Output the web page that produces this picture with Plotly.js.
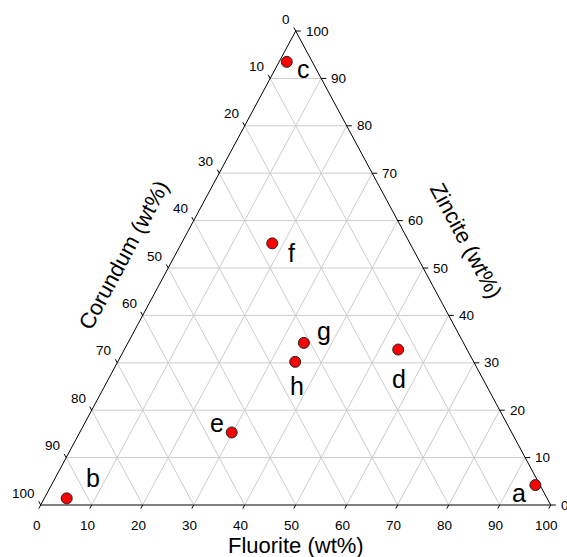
<!DOCTYPE html>
<html>
<head>
<meta charset="utf-8">
<script src="https://cdn.plot.ly/plotly-3.0.1.min.js"></script>
<style>html,body{margin:0;padding:0;background:#fff;}#chart{width:567px;height:557px;}</style>
</head>
<body>
<div id="chart"></div>
<script>
// ---- data (wt%) ----
const sampleLabels = ['a', 'b', 'c', 'd', 'e', 'f', 'g', 'h'];
const fluorite = [94.9, 4.4, 1.5, 53.7, 29.8, 17.8, 34.5, 34.8];
const zincite  = [4.2, 1.4, 93.5, 32.8, 15.3, 55.2, 34.2, 30.2];
const corundum = [0.9, 94.2, 5.0, 13.5, 54.9, 27.0, 31.3, 35.0];
const tickValues = [0, 10, 20, 30, 40, 50, 60, 70, 80, 90, 100];
const tickLabels = ['0', '10', '20', '30', '40', '50', '60', '70', '80', '90', '100'];
const axisTitles = {bottom: 'Fluorite (wt%)', left: 'Corundum (wt%)', right: 'Zincite (wt%)'};

// ---- layout geometry (pixels) ----
const PX0 = 40.7, PY0 = 505, PW = 510, PH = 474;
const FIG_W = 567, FIG_H = 557;
const FONT = 'Liberation Sans, Arial, sans-serif';
const EDGE_ANGLE = Math.atan2(PH, PW / 2) * 180 / Math.PI;

// ternary (fluorite, zincite) -> cartesian
function toX(f, z) { return f + z / 2; }
function toY(f, z) { return z; }

const traces = [];

// grid lines
const gx = [], gy = [];
tickValues.forEach(v => {
  if (v === 0 || v === 100) return;
  gx.push(toX(0, v), toX(100 - v, v), null); gy.push(toY(0, v), toY(100 - v, v), null);
  gx.push(toX(v, 0), toX(v, 100 - v), null); gy.push(toY(v, 0), toY(v, 100 - v), null);
  gx.push(toX(100 - v, 0), toX(0, 100 - v), null); gy.push(toY(100 - v, 0), toY(0, 100 - v), null);
});
traces.push({x: gx, y: gy, mode: 'lines', line: {color: '#cccccc', width: 1}, hoverinfo: 'skip'});

// frame: left & right edges
traces.push({x: [toX(0, 0), toX(0, 100), toX(100, 0)], y: [toY(0, 0), toY(0, 100), toY(100, 0)],
  mode: 'lines', line: {color: '#000000', width: 1}, hoverinfo: 'skip'});
// bottom edge
traces.push({x: [toX(0, 0), toX(100, 0)], y: [toY(0, 0), toY(100, 0)],
  mode: 'lines', line: {color: '#555555', width: 1.6}, hoverinfo: 'skip'});

// ticks
const T = 0.75;
const tx = [], ty = [];
tickValues.forEach(v => {
  tx.push(toX(v, 0), toX(v, 0) - T / 2, null); ty.push(toY(v, 0), -T, null);
  tx.push(toX(100 - v, v), toX(100 - v, v) + 1.0, null); ty.push(toY(100 - v, v), toY(100 - v, v), null);
  tx.push(toX(0, 100 - v), toX(0, 100 - v) - T / 2, null); ty.push(toY(0, 100 - v), toY(0, 100 - v) + T, null);
});
traces.push({x: tx, y: ty, mode: 'lines', line: {color: '#000000', width: 1}, hoverinfo: 'skip'});

// sample points
const sx = [], sy = [];
for (let i = 0; i < sampleLabels.length; i++) {
  const tot = fluorite[i] + zincite[i] + corundum[i];
  const f = 100 * fluorite[i] / tot, z = 100 * zincite[i] / tot;
  sx.push(toX(f, z)); sy.push(toY(f, z));
}
traces.push({x: sx, y: sy, mode: 'markers', text: sampleLabels,
  marker: {size: 11, color: '#ff0000', line: {color: '#222222', width: 1}}, hoverinfo: 'text'});

// annotations
const ann = [];
const tickFont = {family: FONT, size: 13.5, color: '#000'};
tickValues.forEach((v, i) => {
  ann.push({x: toX(v, 0), y: 0, text: tickLabels[i], showarrow: false, xanchor: 'center', yanchor: 'middle',
    xshift: -4, yshift: -20, font: tickFont});
  ann.push({x: toX(100 - v, v), y: toY(100 - v, v), text: tickLabels[i], showarrow: false, xanchor: 'left', yanchor: 'middle',
    xshift: 8, yshift: 0, font: tickFont});
  ann.push({x: toX(0, 100 - v), y: toY(0, 100 - v), text: tickLabels[i], showarrow: false, xanchor: 'right', yanchor: 'middle',
    xshift: -4, yshift: 12, font: tickFont});
});
// point labels: offsets in px (dx right, dy down)
const labelOffsets = [[-16, 8], [26, -20], [17, 7], [1, 29], [-15, -9], [19, 10], [20, -12], [2, 24]];
for (let i = 0; i < sampleLabels.length; i++) {
  ann.push({x: sx[i], y: sy[i], text: sampleLabels[i], showarrow: false, xanchor: 'center', yanchor: 'middle',
    xshift: labelOffsets[i][0], yshift: -labelOffsets[i][1], font: {family: FONT, size: 25, color: '#000'}});
}
const titleFont = {family: FONT, size: 22, color: '#000'};
ann.push({x: toX(50, 0), y: 0, text: axisTitles.bottom, showarrow: false, xanchor: 'center', yanchor: 'middle',
  yshift: -40, font: titleFont});
ann.push({x: toX(0, 50), y: toY(0, 50), text: axisTitles.left, showarrow: false, xanchor: 'center', yanchor: 'middle',
  xshift: -45, yshift: 13, textangle: -EDGE_ANGLE, font: titleFont});
ann.push({x: toX(50, 50), y: toY(50, 50), text: axisTitles.right, showarrow: false, xanchor: 'center', yanchor: 'middle',
  xshift: 43, yshift: 28, textangle: EDGE_ANGLE, font: titleFont});

const xr0 = -PX0 / (PW / 100), xr1 = (FIG_W - PX0) / (PW / 100);
const yr0 = -(FIG_H - PY0) / (PH / 100), yr1 = PY0 / (PH / 100);

const layout = {
  width: FIG_W, height: FIG_H,
  margin: {l: 0, r: 0, t: 0, b: 0, pad: 0},
  paper_bgcolor: '#ffffff', plot_bgcolor: '#ffffff',
  showlegend: false, hovermode: 'closest',
  xaxis: {range: [xr0, xr1], visible: false, fixedrange: true},
  yaxis: {range: [yr0, yr1], visible: false, fixedrange: true},
  annotations: ann
};
Plotly.newPlot('chart', traces, layout, {displayModeBar: false, staticPlot: true});
</script>
</body>
</html>
